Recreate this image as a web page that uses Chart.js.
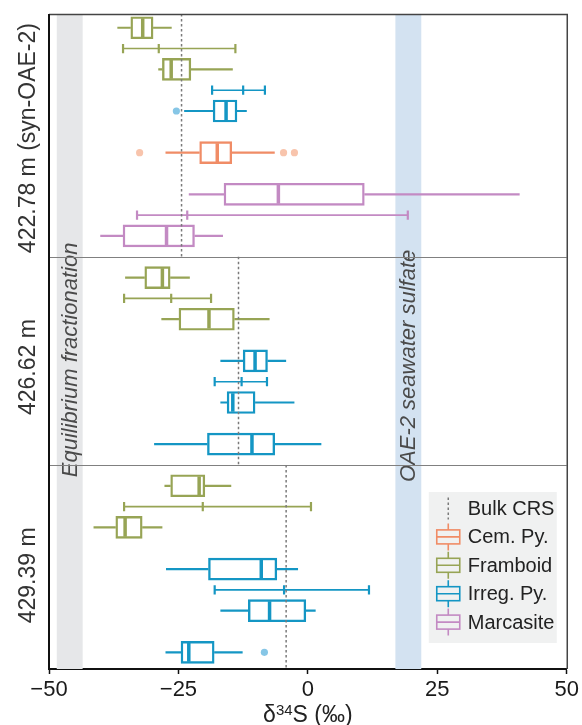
<!DOCTYPE html>
<html><head><meta charset="utf-8">
<style>html,body{margin:0;padding:0;background:#fff;}canvas{display:block;}</style>
<script src="https://cdn.jsdelivr.net/npm/chart.js@4.4.0/dist/chart.umd.min.js"></script>
</head><body>
<canvas id="c" width="582" height="725"></canvas>
<script>
// ---------- data ----------
const panelLabels = ['422.78 m (syn-OAE-2)', '426.62 m', '429.39 m'];
const bulkCRS = [-24.4, -13.4, -4.2];
const seriesNames = ['Cem. Py.', 'Framboid', 'Irreg. Py.', 'Marcasite'];
const xTicks = [-50, -25, 0, 25, 50];
const equilibriumRange = [-48.5, -43.5];
const seawaterRange = [16.9, 21.9];

// one entry per box, top to bottom
const boxPanel = [0, 0, 0, 0, 0, 0, 1, 1, 1, 1, 1, 2, 2, 2, 2, 2];
const boxSeries = ['Framboid', 'Framboid', 'Irreg. Py.', 'Cem. Py.', 'Marcasite', 'Marcasite',
  'Framboid', 'Framboid', 'Irreg. Py.', 'Irreg. Py.', 'Irreg. Py.',
  'Framboid', 'Framboid', 'Irreg. Py.', 'Irreg. Py.', 'Irreg. Py.'];
const whiskerLow  = [-36.8, -28.9, -23.9, -27.5, -23.0, -40.1, -35.3, -28.3, -16.9, -16.9, -29.7, -27.7, -41.4, -27.4, -16.9, -27.5];
const q1          = [-34.2, -28.1, -18.3, -20.9, -16.2, -35.7, -31.5, -24.9, -12.5, -15.6, -19.4, -26.5, -37.1, -19.2, -11.5, -24.5];
const median      = [-31.9, -26.4, -15.8, -17.5,  -5.7, -27.3, -28.1, -19.1, -10.2, -14.5, -10.8, -21.0, -35.3,  -9.0,  -7.4, -23.0];
const q3          = [-29.9, -22.6, -13.7, -14.7,  10.9, -21.9, -26.6, -14.2,  -7.8, -10.2,  -6.4, -19.9, -32.0,  -6.0,  -0.4, -18.1];
const whiskerHigh = [-26.3, -14.5, -11.8,  -6.4,  40.9, -16.4, -22.8,  -7.4,  -4.2,  -2.6,   2.6, -14.8, -28.1,  -1.9,   1.5, -12.6];

// outliers: which box, value
const outlierBox   = [2, 3, 3, 3, 15];
const outlierValue = [-25.4, -32.5, -4.7, -2.6, -8.4];

// range bars (low, mid, high) shown just above a box
const rangeBox  = [1, 2, 5, 7, 9, 12, 14];
const rangeLow  = [-35.7, -18.5, -33.0, -35.5, -18.0, -35.5, -18.0];
const rangeMid  = [-28.8, -12.5, -23.3, -26.4, -12.8, -20.3, -4.6];
const rangeHigh = [-14.0,  -8.3,  19.3, -18.7,  -7.9,   0.6,  11.8];

// ---------- styles ----------
const FONT = "'Liberation Sans', Arial, Helvetica, sans-serif";
const seriesColors = {'Cem. Py.': '#F08C66', 'Framboid': '#97A455', 'Irreg. Py.': '#1496C4', 'Marcasite': '#C38AC3'};
const outlierColors = {'Cem. Py.': '#F8C4AC', 'Framboid': '#CCD3A8', 'Irreg. Py.': '#86C6E6', 'Marcasite': '#E3C6E3'};
const BOX_HALF = 0.255, CAP_HALF = 0.11, Y_MIN = -0.33, Y_MAX = 15.4;
const gap = () => ({x: null, y: null});

const datasets = [];
seriesNames.forEach(s => {
  const col = seriesColors[s];
  const idx = boxSeries.map((v, i) => v === s ? i : -1).filter(i => i >= 0);
  const wh = [], md = [];
  idx.forEach(i => {
    wh.push({x: whiskerLow[i], y: i}, {x: q1[i], y: i}, gap(), {x: q3[i], y: i}, {x: whiskerHigh[i], y: i}, gap());
    md.push({x: median[i], y: i - BOX_HALF + 0.03}, {x: median[i], y: i + BOX_HALF - 0.03}, gap());
  });
  datasets.push({type: 'line', label: s + ' whiskers', data: wh, borderColor: col, borderWidth: 2.2, pointRadius: 0, spanGaps: false, fill: false, order: 5});
  datasets.push({type: 'bar', label: s, data: idx.map(i => ({x: [q1[i], q3[i]], y: i})), backgroundColor: '#ffffff', borderColor: col, borderWidth: 2.4, borderSkipped: false, barThickness: 22, grouped: false, order: 3});
  datasets.push({type: 'line', label: s + ' median', data: md, borderColor: col, borderWidth: 3.5, pointRadius: 0, spanGaps: false, fill: false, order: 2});
  const rg = [], cp = [];
  rangeBox.forEach((b, k) => {
    if (boxSeries[b] !== s) return;
    const r = b - 0.5;
    rg.push({x: rangeLow[k], y: r}, {x: rangeHigh[k], y: r}, gap());
    [rangeLow[k], rangeMid[k], rangeHigh[k]].forEach(v => cp.push({x: v, y: r - CAP_HALF}, {x: v, y: r + CAP_HALF}, gap()));
  });
  if (rg.length) {
    datasets.push({type: 'line', label: s + ' range', data: rg, borderColor: col, borderWidth: 1.6, pointRadius: 0, spanGaps: false, fill: false, order: 5});
    datasets.push({type: 'line', label: s + ' range caps', data: cp, borderColor: col, borderWidth: 2.2, pointRadius: 0, spanGaps: false, fill: false, order: 5});
  }
  const od = [];
  outlierBox.forEach((b, k) => { if (boxSeries[b] === s) od.push({x: outlierValue[k], y: b}); });
  if (od.length) {
    datasets.push({type: 'line', label: s + ' outliers', data: od, showLine: false, pointRadius: 3.6, pointBackgroundColor: outlierColors[s], pointBorderWidth: 0, borderColor: outlierColors[s], order: 4});
  }
});
function panelRows(k) { return boxPanel.map((v, i) => v === k ? i : -1).filter(i => i >= 0); }
// Bulk CRS dotted lines, one per panel
const crs = [];
panelLabels.forEach((p, k) => {
  const rows = panelRows(k);
  crs.push({x: bulkCRS[k], y: Math.max(Y_MIN, rows[0] - 0.5)}, {x: bulkCRS[k], y: Math.min(Y_MAX, rows[rows.length - 1] + 0.5)}, gap());
});
datasets.push({type: 'line', label: 'Bulk CRS', data: crs, borderColor: '#7a7a7a', borderWidth: 1.5, borderDash: [2.5, 2.5], pointRadius: 0, spanGaps: false, fill: false, order: 0});

const decor = {
  id: 'decor',
  beforeDatasetsDraw(chart) {
    const {ctx, chartArea: a, scales: {x, y}} = chart;
    ctx.save();
    ctx.fillStyle = '#E6E7E9';
    let x0 = x.getPixelForValue(equilibriumRange[0]), x1 = x.getPixelForValue(equilibriumRange[1]);
    ctx.fillRect(x0, a.top, x1 - x0, a.bottom - a.top);
    const e0 = x.getPixelForValue(seawaterRange[0]), e1 = x.getPixelForValue(seawaterRange[1]);
    ctx.fillStyle = '#D3E2F1';
    ctx.fillRect(e0, a.top, e1 - e0, a.bottom - a.top);
    // band labels, centred on middle panel
    const mid = panelRows(1);
    const cy = y.getPixelForValue((mid[0] + mid[mid.length - 1]) / 2);
    ctx.fillStyle = '#4a4a4a';
    ctx.font = 'italic 22px ' + FONT;
    ctx.textAlign = 'center'; ctx.textBaseline = 'middle';
    [[(x0 + x1) / 2, 'Equilibrium fractionation', cy - 1], [(e0 + e1) / 2, 'OAE-2 seawater sulfate', cy + 5]].forEach(([cx, t, ty]) => {
      ctx.save(); ctx.translate(cx, ty); ctx.rotate(-Math.PI / 2); ctx.fillText(t, 0, 1); ctx.restore();
    });
    // panel separators
    ctx.strokeStyle = '#808080'; ctx.lineWidth = 1.2;
    for (let k = 1; k < panelLabels.length; k++) {
      const r = panelRows(k)[0] - 0.5;
      const py = Math.round(y.getPixelForValue(r)) + 0.5;
      ctx.beginPath(); ctx.moveTo(a.left, py); ctx.lineTo(a.right, py); ctx.stroke();
    }
    ctx.restore();
  },
  afterDraw(chart) {
    const {ctx, chartArea: a, scales: {x, y}} = chart;
    ctx.save();
    // frame
    ctx.strokeStyle = '#444'; ctx.lineWidth = 1.5;
    ctx.beginPath(); ctx.moveTo(a.left, a.top + 0.5); ctx.lineTo(a.right + 0.5, a.top + 0.5); ctx.lineTo(a.right + 0.5, a.bottom); ctx.stroke();
    ctx.strokeStyle = '#111'; ctx.lineWidth = 2;
    ctx.beginPath(); ctx.moveTo(a.left, a.top); ctx.lineTo(a.left, a.bottom + 1); ctx.stroke();
    // panel labels
    ctx.fillStyle = '#333'; ctx.font = '23px ' + FONT;
    ctx.textAlign = 'center'; ctx.textBaseline = 'alphabetic';
    panelLabels.forEach((t, k) => {
      const rows = panelRows(k);
      const cy = y.getPixelForValue((rows[0] + rows[rows.length - 1]) / 2 + 0.15);
      ctx.save(); ctx.translate(a.left - 14, cy); ctx.rotate(-Math.PI / 2); ctx.fillText(t, 0, 0); ctx.restore();
    });
    // legend
    const L = a.right - 138, T = a.bottom - 177, W = 128, H = 151;
    ctx.fillStyle = '#F0F1F1'; ctx.fillRect(L, T, W, H);
    const items = ['Bulk CRS'].concat(seriesNames);
    ctx.font = '20px ' + FONT; ctx.textAlign = 'left'; ctx.textBaseline = 'middle';
    items.forEach((t, k) => {
      const cy = T + 16.5 + k * 28.4, cx = L + 19.5;
      if (k === 0) {
        ctx.strokeStyle = '#7a7a7a'; ctx.lineWidth = 1.5; ctx.setLineDash([2.5, 2.5]);
        ctx.beginPath(); ctx.moveTo(cx, cy - 11); ctx.lineTo(cx, cy + 11); ctx.stroke();
        ctx.setLineDash([]);
      } else {
        ctx.strokeStyle = seriesColors[t]; ctx.lineWidth = 1.6;
        ctx.strokeRect(cx - 11.5, cy - 7, 23, 14);
        ctx.beginPath();
        ctx.moveTo(cx - 11.5, cy); ctx.lineTo(cx + 11.5, cy);
        ctx.moveTo(cx, cy - 7); ctx.lineTo(cx, cy - 13.5);
        ctx.moveTo(cx, cy + 7); ctx.lineTo(cx, cy + 13.5);
        ctx.stroke();
      }
      ctx.fillStyle = '#222'; ctx.fillText(t, L + 39, cy + 1);
    });
    // x title with superscript
    const cx = (a.left + a.right) / 2, by = 722;
    const big = '23px ' + FONT, small = '15px ' + FONT;
    ctx.font = big; const w1 = ctx.measureText('\u03B4').width, w3 = ctx.measureText('S (\u2030)').width;
    ctx.font = small; const w2 = ctx.measureText('34').width;
    let sx = cx - (w1 + w2 + w3) / 2;
    ctx.fillStyle = '#222'; ctx.textBaseline = 'alphabetic'; ctx.textAlign = 'left';
    ctx.font = big; ctx.fillText('\u03B4', sx, by); sx += w1;
    ctx.font = small; ctx.fillText('34', sx, by - 7); sx += w2;
    ctx.font = big; ctx.fillText('S (\u2030)', sx, by);
    ctx.restore();
  }
};

new Chart(document.getElementById('c'), {
  type: 'bar',
  data: {datasets},
  options: {
    indexAxis: 'y',
    responsive: false,
    animation: false,
    events: [],
    devicePixelRatio: 1,
    layout: {padding: {left: 49, right: 15, top: 14, bottom: 0}},
    plugins: {legend: {display: false}, tooltip: {enabled: false}},
    scales: {
      x: {
        type: 'linear', position: 'bottom', min: xTicks[0], max: xTicks[xTicks.length - 1], offset: false,
        afterBuildTicks: s => { s.ticks = xTicks.map(v => ({value: v})); },
        afterFit: s => { s.height = 56; },
        grid: {drawOnChartArea: false, drawTicks: true, tickLength: 5, tickColor: '#111', tickWidth: 1.5, offset: false},
        border: {display: true, color: '#111', width: 2},
        ticks: {font: {family: FONT, size: 22}, color: '#1a1a1a', padding: 3,
          callback: v => v < 0 ? '\u2212' + Math.abs(v) : String(v)}
      },
      y: {type: 'linear', min: Y_MIN, max: Y_MAX, reverse: true, display: false, offset: false, grid: {offset: false}}
    }
  },
  plugins: [decor]
});
</script>
</body></html>
